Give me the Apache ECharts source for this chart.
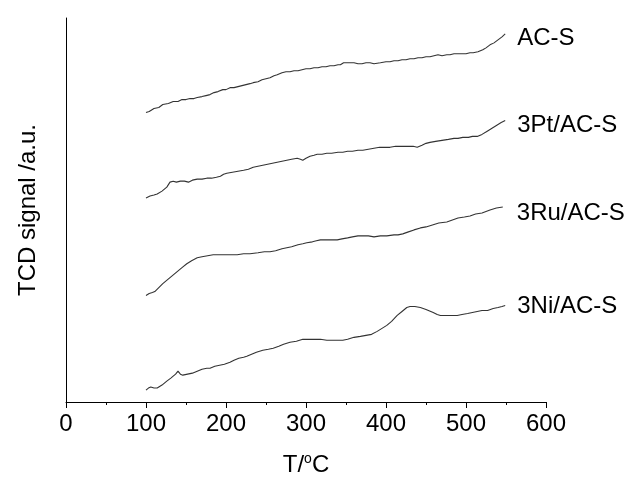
<!DOCTYPE html>
<html>
<head>
<meta charset="utf-8">
<script src="https://cdn.jsdelivr.net/npm/echarts@6/dist/echarts.min.js"></script>
<style>
html,body{margin:0;padding:0;background:#fff;}
#chart{width:629px;height:482px;}
</style>
</head>
<body>
<div id="chart"></div>
<script>
// Series names (sample labels)
var seriesNames = ['AC-S', '3Pt/AC-S', '3Ru/AC-S', '3Ni/AC-S'];

// TCD signal (a.u., arbitrary offset) vs temperature T (°C)
var acS = [[100,291],[104,292],[110,295],[116,296],[121,299],[128,300],[134,302],[140,302],[145,304],[150,304],[155,305],[160,305],[164,306],[170,307],[175,308],[180,309],[185,311],[190,312],[196,314],[200,314],[205,316],[210,316],[215,317],[220,318],[225,319],[230,320],[234,321],[240,322],[245,324],[250,325],[255,326],[260,328],[264,329],[265,331],[270,331],[275,332],[280,332],[285,333],[290,333],[295,334],[300,335],[305,335],[310,336],[315,336],[320,337],[325,337],[330,338],[335,338],[340,339],[343,339],[347,341],[351,341],[360,341],[365,340],[370,340],[375,341],[380,341],[385,340],[393,341],[400,342],[405,342],[410,343],[415,343],[420,344],[425,344],[430,345],[435,345],[440,346],[445,346],[450,347],[455,347],[460,348],[465,349],[470,348],[476,349],[480,349],[485,350],[490,350],[495,350],[500,350],[505,351],[509,351],[515,352],[521,354],[525,356],[530,359],[535,361],[540,364],[545,367],[549,370]];

var pt = [[100,205],[105,207],[110,208],[114,209],[120,212],[126,216],[130,221],[134,222],[138,221],[143,222],[148,222],[153,221],[158,223],[164,224],[170,224],[176,225],[182,225],[188,226],[193,227],[197,229],[201,230],[208,231],[215,232],[222,233],[228,234],[234,236],[240,237],[246,238],[252,239],[258,240],[264,241],[270,242],[276,243],[282,244],[289,245],[293,244],[296,243],[300,245],[305,247],[310,248],[314,249],[320,249],[326,250],[332,250],[340,251],[346,251],[352,252],[358,252],[365,253],[371,253],[378,254],[385,255],[392,256],[398,256],[405,256],[412,257],[420,257],[430,257],[434,257],[439,256],[445,258],[450,260],[455,261],[462,262],[470,263],[478,264],[485,265],[490,265],[496,266],[503,266],[508,267],[514,267],[520,269],[526,272],[532,275],[538,278],[544,281],[549,283]];

var ru = [[100,107],[104,109],[108,110],[111,111],[116,115],[121,119],[127,123],[133,127],[139,131],[145,135],[151,139],[157,142],[164,145],[170,146],[177,147],[184,148],[192,148],[200,148],[208,148],[214,148],[222,149],[230,149],[240,150],[248,151],[255,151],[262,152],[270,154],[276,155],[282,156],[290,158],[296,159],[301,160],[308,161],[313,162],[318,163],[325,163],[332,163],[339,163],[345,164],[352,165],[358,166],[365,167],[371,167],[378,167],[385,166],[393,167],[401,167],[410,168],[415,168],[421,169],[428,171],[435,173],[443,175],[450,176],[458,178],[466,180],[476,181],[483,183],[490,185],[498,186],[505,187],[512,189],[520,190],[530,193],[538,195],[546,196]];

var ni = [[100,12],[103,14],[106,15],[110,14],[114,14],[120,17],[126,21],[131,24],[134,26],[137,28],[140,31],[143,28],[146,27],[152,28],[158,29],[164,31],[170,33],[176,34],[180,34],[186,36],[192,37],[198,38],[205,40],[210,42],[216,44],[222,45],[226,46],[232,48],[238,50],[246,52],[253,53],[259,54],[266,56],[272,58],[280,60],[288,61],[296,63],[302,63],[310,63],[318,63],[326,62],[334,62],[340,62],[346,62],[352,63],[360,65],[368,66],[375,67],[382,68],[389,71],[395,74],[401,77],[407,81],[414,87],[420,91],[426,95],[430,96],[436,96],[443,95],[450,93],[459,90],[464,88],[468,87],[475,87],[482,87],[489,87],[495,88],[502,89],[508,90],[514,91],[520,92],[527,92],[534,94],[540,95],[545,96],[549,97]];

var xTicks = [0, 100, 200, 300, 400, 500, 600];

var FONT = '"Liberation Sans", Arial, sans-serif';
var chart = echarts.init(document.getElementById('chart'), null, {renderer: 'canvas'});

function makeSeries(name, data, offset) {
  return {
    name: name,
    type: 'line',
    data: data,
    showSymbol: false,
    symbol: 'none',
    smooth: false,
    animation: false,
    lineStyle: {color: '#333', width: 1.1},
    endLabel: {
      show: true,
      formatter: name,
      color: '#000',
      fontFamily: FONT,
      fontSize: 24,
      distance: 0,
      offset: offset
    }
  };
}

chart.setOption({
  animation: false,
  backgroundColor: '#fff',
  grid: {left: 66, right: 83, top: 18, bottom: 78, containLabel: false},
  xAxis: {
    type: 'value',
    min: 0, max: 600, interval: 100,
    name: 'T/{sup|o}C',
    nameLocation: 'middle',
    nameGap: 50,
    nameTextStyle: {
      color: '#000', fontFamily: FONT, fontSize: 24,
      rich: {sup: {fontSize: 14, fontFamily: FONT, color: '#000', verticalAlign: 'top', padding: [0, 0, 12, 0]}}
    },
    axisLine: {show: true, lineStyle: {color: '#000', width: 1}},
    axisTick: {show: true, inside: false, length: 6, lineStyle: {color: '#000'}},
    minorTick: {show: true, splitNumber: 2, length: 3, lineStyle: {color: '#000'}},
    axisLabel: {
      color: '#000', fontFamily: FONT, fontSize: 24, margin: 10,
      customValues: xTicks
    },
    splitLine: {show: false}
  },
  yAxis: {
    type: 'value',
    min: 0, max: 386,
    name: 'TCD signal /a.u.',
    nameLocation: 'middle',
    nameGap: 26,
    nameTextStyle: {color: '#000', fontFamily: FONT, fontSize: 24},
    axisLine: {show: true, lineStyle: {color: '#000', width: 1}},
    axisTick: {show: false},
    axisLabel: {show: false},
    splitLine: {show: false}
  },
  series: [
    makeSeries(seriesNames[0], acS, [12, 4]),
    makeSeries(seriesNames[1], pt, [12, 5]),
    makeSeries(seriesNames[2], ru, [14, 6]),
    makeSeries(seriesNames[3], ni, [12, 1])
  ]
});
</script>
</body>
</html>
